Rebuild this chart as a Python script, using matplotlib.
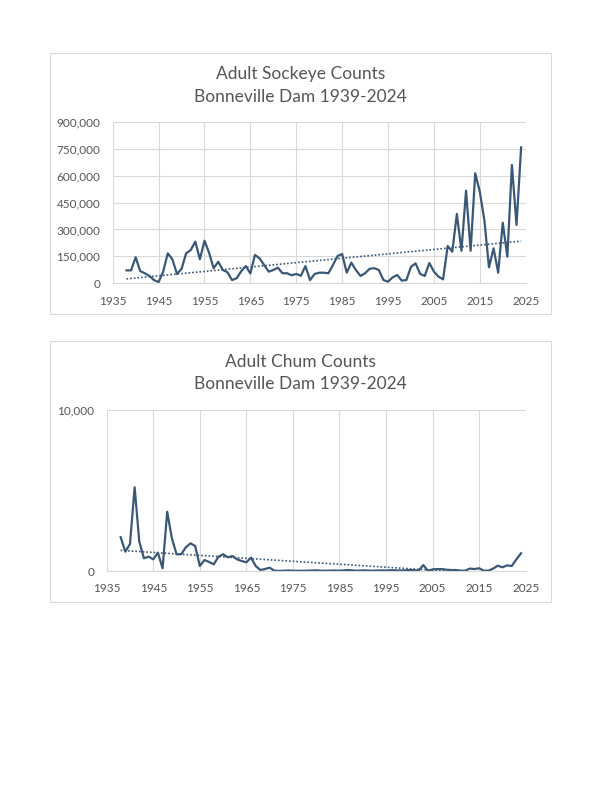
import numpy as np
import matplotlib
matplotlib.use('Agg')
from matplotlib import pyplot as plt
from matplotlib.patches import Rectangle
from matplotlib.ticker import FuncFormatter

plt.rcParams['font.family'] = ['Lato', 'DejaVu Sans']

years = np.arange(1938, 2025)

sockeye = [72000, 72000, 145000, 68000, 56000, 41000, 18000, 7000, 65000, 167000,
           134000, 52000, 80000, 167000, 185000, 232000, 134000, 237000, 170000, 84000,
           120000, 74000, 62000, 18000, 28000, 67000, 96000, 55000, 158000, 139000,
           102000, 65000, 74000, 87000, 56000, 56000, 45000, 52000, 42000, 96000,
           18000, 52000, 59000, 59000, 56000, 102000, 152000, 163000, 59000, 115000,
           74000, 41000, 56000, 81000, 84000, 74000, 18000, 9000, 33000, 46000,
           15000, 18000, 92000, 111000, 52000, 41000, 113000, 65000, 37000, 22000,
           208000, 176000, 386000, 181000, 516000, 181000, 613000, 510000, 350000, 89000,
           195000, 59000, 337000, 148000, 659000, 325000, 757000]

chum = [2100, 1200, 1680, 5200, 1820, 790, 890, 725, 1140, 170,
        3680, 2030, 1040, 1040, 1470, 1720, 1550, 310, 680, 560,
        415, 890, 1040, 850, 930, 725, 620, 540, 830, 310,
        62, 124, 205, 20, 10, 15, 30, 20, 10, 15,
        20, 30, 40, 20, 15, 25, 30, 20, 40, 60,
        30, 20, 40, 30, 20, 30, 40, 30, 50, 40,
        30, 40, 60, 50, 20, 370, 10, 100, 120, 120,
        80, 60, 60, 20, 20, 150, 120, 170, 20, 20,
        150, 330, 230, 350, 310, 725, 1100]

W, H = 612, 792
line_col = '#3A5876'
grid_col = '#D9D9D9'
text_col = '#555555'

fig = plt.figure(figsize=(W / 100, H / 100), dpi=100)


def box(x0, y0, x1, y1):
    return [x0 / W, 1 - y1 / H, (x1 - x0) / W, (y1 - y0) / H]


def chart(frame, area, values, ymax, ystep, lines):
    fig.patches.append(Rectangle((frame[0] / W, 1 - frame[3] / H),
                                 (frame[2] - frame[0]) / W, (frame[3] - frame[1]) / H,
                                 transform=fig.transFigure, fill=False,
                                 edgecolor=grid_col, linewidth=0.8))
    ax = fig.add_axes(box(*area))
    ax.plot(years, values, color=line_col, linewidth=1.6, solid_joinstyle='round')
    k, b = np.polyfit(years, values, 1)
    ax.plot(years, k * years + b, color=line_col, linewidth=1.2, linestyle=(0, (1, 1.2)))
    ax.set_xlim(1935, 2025)
    ax.set_ylim(0, ymax)
    ax.set_xticks(np.arange(1935, 2026, 10))
    ax.set_yticks(np.arange(0, ymax + 1, ystep))
    ax.yaxis.set_major_formatter(FuncFormatter(lambda v, p: f'{int(v):,}'))
    ax.grid(True, color=grid_col, linewidth=0.8)
    ax.set_axisbelow(True)
    for s in ['top', 'right', 'left']:
        ax.spines[s].set_visible(False)
    ax.spines['bottom'].set_color(grid_col)
    ax.tick_params(length=0, labelsize=8.5, colors=text_col, pad=9)
    cx = (frame[0] + frame[2]) / 2 / W
    fig.text(cx, 1 - lines[0][1] / H, lines[0][0], ha='center', va='center',
             fontsize=12.5, color=text_col)
    fig.text(cx, 1 - lines[1][1] / H, lines[1][0], ha='center', va='center',
             fontsize=12.5, color=text_col)
    return ax


chart((50, 53, 551, 314), (112.7, 121.7, 525.7, 283.3), sockeye, 900000, 150000,
      [('Adult Sockeye Counts', 74), ('Bonneville Dam 1939-2024', 97)])
chart((50, 341, 551, 602), (106.7, 410, 525.7, 571), chum, 10000, 10000,
      [('Adult Chum Counts', 362), ('Bonneville Dam 1939-2024', 384)])

fig.savefig('out.png', dpi=100)
